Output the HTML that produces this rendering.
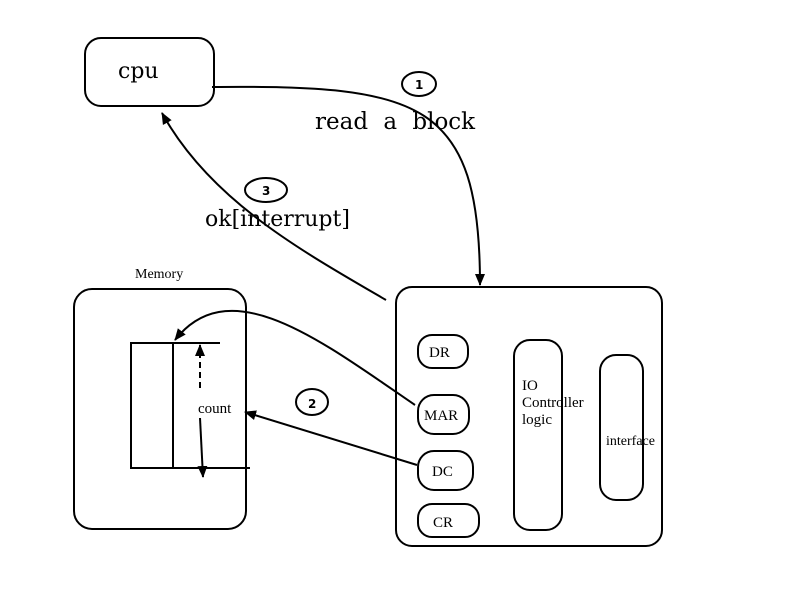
<!DOCTYPE html>
<html><head><style>
html,body{margin:0;padding:0;background:#fff;width:800px;height:600px;overflow:hidden}
text{font-family:"Liberation Serif",serif;fill:#000}
.big{font-family:"DejaVu Serif","Liberation Serif",serif}
.num{font-family:"DejaVu Sans","Liberation Sans",sans-serif;font-weight:bold}
</style></head><body>
<svg width="800" height="600" viewBox="0 0 800 600" xmlns="http://www.w3.org/2000/svg">
<defs>
<marker id="a" markerWidth="12" markerHeight="12" refX="11" refY="6" orient="auto" markerUnits="userSpaceOnUse"><path d="M0,1 L12,6 L0,11 Z" fill="#000"/></marker>
</defs>
<g fill="none" stroke="#000" stroke-width="2">
<rect x="85" y="38" width="129" height="68" rx="16"/>
<rect x="74" y="289" width="172" height="240" rx="18"/>
<rect x="396" y="287" width="266" height="259" rx="16"/>
<rect x="418" y="335" width="50" height="33" rx="14"/>
<rect x="418" y="395" width="51" height="39" rx="16"/>
<rect x="418" y="451" width="55" height="39" rx="16"/>
<rect x="418" y="504" width="61" height="33" rx="14"/>
<rect x="514" y="340" width="48" height="190" rx="16"/>
<rect x="600" y="355" width="43" height="145" rx="16"/>
<ellipse cx="419" cy="84" rx="17" ry="12"/>
<ellipse cx="266" cy="190" rx="21" ry="12"/>
<ellipse cx="312" cy="402" rx="16" ry="13"/>
<polyline points="220,343 131,343 131,468 250,468"/>
<line x1="173" y1="343" x2="173" y2="468"/>
<path d="M212,87 C420,85 480,100 480,285" marker-end="url(#a)"/>
<path d="M386,300 C300,250 210,200 162,113" marker-end="url(#a)"/>
<path d="M415,405 C320,340 230,270 175,340" marker-end="url(#a)"/>
<line x1="417" y1="465" x2="245" y2="412" marker-end="url(#a)"/>
<line x1="200" y1="388" x2="200" y2="345" stroke-dasharray="6,4" marker-end="url(#a)"/>
<line x1="200" y1="418" x2="203" y2="477" marker-end="url(#a)"/>
</g>
<text x="118" y="78" font-size="22" class="big">cpu</text>
<text x="315" y="129" font-size="23" class="big" word-spacing="8">read a block</text>
<text x="205" y="226" font-size="22" class="big">ok[interrupt]</text>
<text x="135" y="278" font-size="14">Memory</text>
<text x="198" y="413" font-size="15">count</text>
<text x="415" y="89" font-size="12" class="num">1</text>
<text x="262" y="195" font-size="12" class="num">3</text>
<text x="308" y="408" font-size="12" class="num">2</text>
<text x="429" y="357" font-size="15">DR</text>
<text x="424" y="420" font-size="15">MAR</text>
<text x="432" y="476" font-size="15">DC</text>
<text x="433" y="527" font-size="15">CR</text>
<text x="522" y="390" font-size="15">IO</text>
<text x="522" y="407" font-size="15">Controller</text>
<text x="522" y="424" font-size="15">logic</text>
<text x="606" y="445" font-size="14">interface</text>
</svg>
</body></html>
